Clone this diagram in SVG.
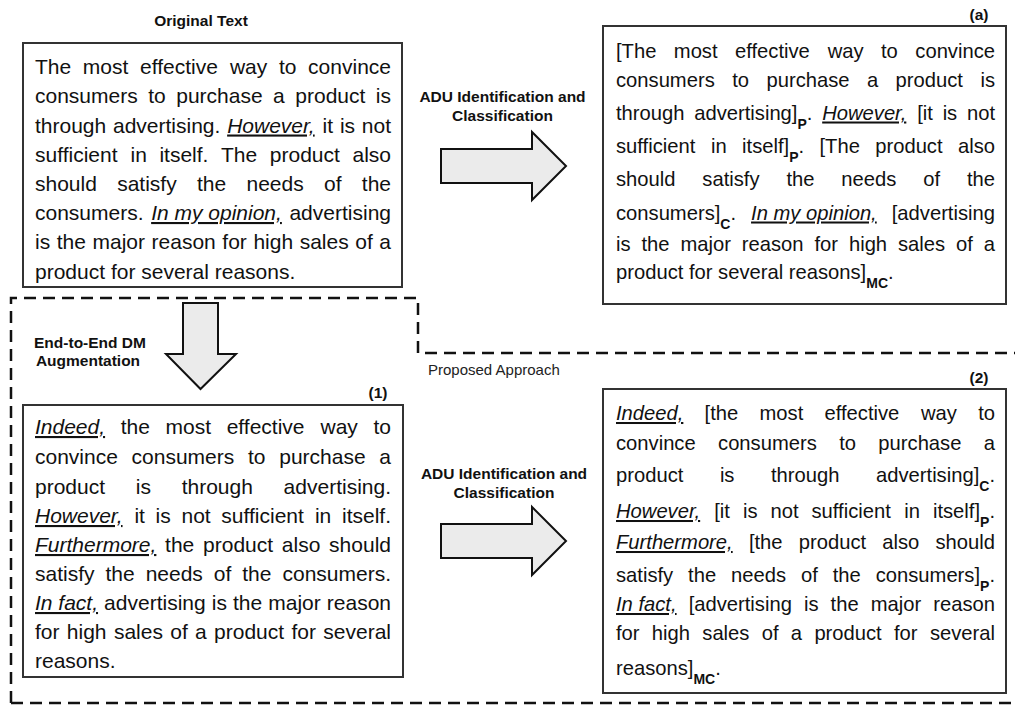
<svg xmlns="http://www.w3.org/2000/svg" width="1015" height="706" viewBox="0 0 1015 706">
<style>
.t{font-family:"Liberation Sans",Arial,sans-serif;font-size:21px;fill:#111}
.r{font-size:20.2px}
.e{text-anchor:end}
.u{font-style:italic;text-decoration:underline}
.sub{font-weight:bold;font-size:14px}
.lbl{font-family:"Liberation Sans",Arial,sans-serif;font-weight:bold;font-size:15.5px;fill:#111;text-anchor:middle}
.plain{font-family:"Liberation Sans",Arial,sans-serif;font-size:15px;fill:#222}
.box{fill:#fff;stroke:#333;stroke-width:2}
.arrow{fill:#ebebeb;stroke:#111;stroke-width:2;stroke-linejoin:miter}
.dash{fill:none;stroke:#111;stroke-width:2.5;stroke-dasharray:12 7}
</style>
<rect width="1015" height="706" fill="#fff"/>

<g id="proposed-approach">
<path class="dash" d="M11,703 V298 H418 V353 H1015"/>
<path class="dash" d="M11,703 H1015"/>
<text class="plain" x="428" y="375">Proposed Approach</text>
</g>

<g id="connectors">
<path class="arrow" d="M441,149 H532 V132 L566,166 L532,200 V183 H441 Z"/>
<path class="arrow" d="M441,524 H532 V507 L566,541 L532,575 V558 H441 Z"/>
<path class="arrow" d="M183,303 H218 V354 H236 L200.5,389 L166,354 H183 Z"/>
<text class="lbl" x="502.5" y="101.5">ADU Identification and</text>
<text class="lbl" x="502.5" y="120.5">Classification</text>
<text class="lbl" x="504" y="479">ADU Identification and</text>
<text class="lbl" x="504" y="498">Classification</text>
<text class="lbl" x="90" y="347.5">End-to-End DM</text>
<text class="lbl" x="88" y="365.5">Augmentation</text>
</g>

<g id="node-original">
<text class="lbl" x="201" y="26">Original Text</text>
<rect class="box" x="23" y="43" width="379" height="244"/>
<text class="t" y="74"><tspan x="35">The</tspan><tspan x="82.86">most</tspan><tspan x="140.05">effective</tspan><tspan x="229.93">way</tspan><tspan x="278.95">to</tspan></text><text class="t e" x="391" y="74">convince</text>
<text class="t" y="103"><tspan x="35">consumers</tspan><tspan x="148.2">to</tspan><tspan x="176.22">purchase</tspan><tspan x="273.1">a</tspan><tspan x="295.29">product</tspan></text><text class="t e" x="391" y="103">is</text>
<text class="t" y="132.5"><tspan x="35">through</tspan><tspan x="112.99">advertising.</tspan><tspan class="u" x="227.14">However,</tspan><tspan x="322.6">it</tspan><tspan x="339.88">is</tspan></text><text class="t e" x="391" y="132.5">not</text>
<text class="t" y="161.5"><tspan x="35">sufficient</tspan><tspan x="130.48">in</tspan><tspan x="159.43">itself.</tspan><tspan x="221.05">The</tspan><tspan x="269.84">product</tspan></text><text class="t e" x="391" y="161.5">also</text>
<text class="t" y="190.5"><tspan x="35">should</tspan><tspan x="117.18">satisfy</tspan><tspan x="197">the</tspan><tspan x="246.5">needs</tspan><tspan x="324.01">of</tspan></text><text class="t e" x="391" y="190.5">the</text>
<text class="t" y="220"><tspan x="35">consumers.</tspan><tspan class="u" x="151.13">In my opinion,</tspan></text><text class="t e" x="391" y="220">advertising</text>
<text class="t" y="249"><tspan x="35">is</tspan><tspan x="56.73">the</tspan><tspan x="92.49">major</tspan><tspan x="151.56">reason</tspan><tspan x="222.33">for</tspan><tspan x="253.41">high</tspan><tspan x="299.67">sales</tspan><tspan x="355.25">of</tspan></text><text class="t e" x="391" y="249">a</text>
<text class="t" x="35" y="278.5">product for several reasons.</text>
</g>

<g id="node-a">
<text class="lbl" x="979" y="19.5">(a)</text>
<rect class="box" x="603" y="26" width="403" height="278"/>
<text class="t r" y="57.5"><tspan x="616">[The</tspan><tspan x="673.84">most</tspan><tspan x="735.03">effective</tspan><tspan x="827.67">way</tspan><tspan x="881.01">to</tspan></text><text class="t r e" x="995" y="57.5">convince</text>
<text class="t r" y="86.5"><tspan x="616">consumers</tspan><tspan x="732.2">to</tspan><tspan x="766.47">purchase</tspan><tspan x="866.97">a</tspan><tspan x="895.62">product</tspan></text><text class="t r e" x="995" y="86.5">is</text>
<text class="t r" y="119.5"><tspan x="616">through</tspan><tspan x="694.22">advertising]</tspan><tspan class="sub" dy="9">P</tspan><tspan dy="-9">.</tspan><tspan class="u" x="822.18">However,</tspan><tspan x="917.2">[it</tspan><tspan x="942.64">is</tspan></text><text class="t r e" x="995" y="119.5">not</text>
<text class="t r" y="153"><tspan x="616">sufficient</tspan><tspan x="711.03">in</tspan><tspan x="742.07">itself]</tspan><tspan class="sub" dy="9">P</tspan><tspan dy="-9">.</tspan><tspan x="819.5">[The</tspan><tspan x="875.24">product</tspan></text><text class="t r e" x="995" y="153">also</text>
<text class="t r" y="185.5"><tspan x="616">should</tspan><tspan x="702.35">satisfy</tspan><tspan x="786.44">the</tspan><tspan x="841.36">needs</tspan><tspan x="923.22">of</tspan></text><text class="t r e" x="995" y="185.5">the</text>
<text class="t r" y="219.5"><tspan x="616">consumers]</tspan><tspan class="sub" dy="9">C</tspan><tspan dy="-9">.</tspan><tspan class="u" x="751.05">In my opinion,</tspan></text><text class="t r e" x="995" y="219.5">[advertising</text>
<text class="t r" y="250.5"><tspan x="616">is</tspan><tspan x="641.47">the</tspan><tspan x="680.44">major</tspan><tspan x="741.83">reason</tspan><tspan x="814.47">for</tspan><tspan x="848.93">high</tspan><tspan x="898">sales</tspan><tspan x="956.04">of</tspan></text><text class="t r e" x="995" y="250.5">a</text>
<text class="t r" x="616" y="278.5">product for several reasons]<tspan class="sub" dy="9">MC</tspan><tspan dy="-9">.</tspan></text>
</g>

<g id="node-1">
<text class="lbl" x="378" y="398">(1)</text>
<rect class="box" x="23" y="405" width="380" height="272"/>
<text class="t" y="434"><tspan class="u" x="35">Indeed,</tspan><tspan x="120.7">the</tspan><tspan x="165.53">most</tspan><tspan x="226.68">effective</tspan><tspan x="320.52">way</tspan></text><text class="t e" x="391" y="434">to</text>
<text class="t" y="464"><tspan x="35">convince</tspan><tspan x="131.59">consumers</tspan><tspan x="248">to</tspan><tspan x="279.23">purchase</tspan></text><text class="t e" x="391" y="464">a</text>
<text class="t" y="494"><tspan x="35">product</tspan><tspan x="135.78">is</tspan><tspan x="181.68">through</tspan></text><text class="t e" x="391" y="494">advertising.</text>
<text class="t" y="523"><tspan class="u" x="35">However,</tspan><tspan x="134.39">it</tspan><tspan x="155.6">is</tspan><tspan x="181.47">not</tspan><tspan x="221.37">sufficient</tspan><tspan x="314.95">in</tspan></text><text class="t e" x="391" y="523">itself.</text>
<text class="t" y="552"><tspan class="u" x="35">Furthermore,</tspan><tspan x="165.12">the</tspan><tspan x="203.07">product</tspan><tspan x="281.87">also</tspan></text><text class="t e" x="391" y="552">should</text>
<text class="t" y="581"><tspan x="35">satisfy</tspan><tspan x="105.48">the</tspan><tspan x="145.64">needs</tspan><tspan x="213.81">of</tspan><tspan x="242.29">the</tspan></text><text class="t e" x="391" y="581">consumers.</text>
<text class="t" y="610"><tspan class="u" x="35">In fact,</tspan><tspan x="104.11">advertising</tspan><tspan x="211.72">is</tspan><tspan x="232.95">the</tspan><tspan x="268.21">major</tspan></text><text class="t e" x="391" y="610">reason</text>
<text class="t" y="639"><tspan x="35">for</tspan><tspan x="66.85">high</tspan><tspan x="113.88">sales</tspan><tspan x="170.23">of</tspan><tspan x="195.08">a</tspan><tspan x="214.1">product</tspan><tspan x="291.48">for</tspan></text><text class="t e" x="391" y="639">several</text>
<text class="t" x="35" y="668">reasons.</text>
</g>

<g id="node-2">
<text class="lbl" x="979" y="383">(2)</text>
<rect class="box" x="603" y="389" width="403" height="304"/>
<text class="t r" y="420"><tspan class="u" x="616">Indeed,</tspan><tspan x="704.62">[the</tspan><tspan x="759.54">most</tspan><tspan x="824.54">effective</tspan><tspan x="920.99">way</tspan></text><text class="t r e" x="995" y="420">to</text>
<text class="t r" y="450"><tspan x="616">convince</tspan><tspan x="718.05">consumers</tspan><tspan x="839.17">to</tspan><tspan x="878.36">purchase</tspan></text><text class="t r e" x="995" y="450">a</text>
<text class="t r" y="482"><tspan x="616">product</tspan><tspan x="719.88">is</tspan><tspan x="770.97">through</tspan></text><text class="t r e" x="995" y="482">advertising]<tspan class="sub" dy="9">C</tspan><tspan dy="-9">.</tspan></text>
<text class="t r" y="518"><tspan class="u" x="616">However,</tspan><tspan x="714.26">[it</tspan><tspan x="742.94">is</tspan><tspan x="770.48">not</tspan><tspan x="811.52">sufficient</tspan><tspan x="904.19">in</tspan></text><text class="t r e" x="995" y="518">itself]<tspan class="sub" dy="9">P</tspan><tspan dy="-9">.</tspan></text>
<text class="t r" y="549"><tspan class="u" x="616">Furthermore,</tspan><tspan x="748.9">[the</tspan><tspan x="798.75">product</tspan><tspan x="882.28">also</tspan></text><text class="t r e" x="995" y="549">should</text>
<text class="t r" y="582"><tspan x="616">satisfy</tspan><tspan x="688.12">the</tspan><tspan x="731.07">needs</tspan><tspan x="800.96">of</tspan><tspan x="832.68">the</tspan></text><text class="t r e" x="995" y="582">consumers]<tspan class="sub" dy="9">P</tspan><tspan dy="-9">.</tspan></text>
<text class="t r" y="611"><tspan class="u" x="616">In fact,</tspan><tspan x="688.67">[advertising</tspan><tspan x="803.98">is</tspan><tspan x="830.59">the</tspan><tspan x="870.7">major</tspan></text><text class="t r e" x="995" y="611">reason</text>
<text class="t r" y="639.5"><tspan x="616">for</tspan><tspan x="651.85">high</tspan><tspan x="702.31">sales</tspan><tspan x="761.74">of</tspan><tspan x="790.87">a</tspan><tspan x="814.38">product</tspan><tspan x="894.03">for</tspan></text><text class="t r e" x="995" y="639.5">several</text>
<text class="t r" x="616" y="675">reasons]<tspan class="sub" dy="9">MC</tspan><tspan dy="-9">.</tspan></text>
</g>
</svg>
